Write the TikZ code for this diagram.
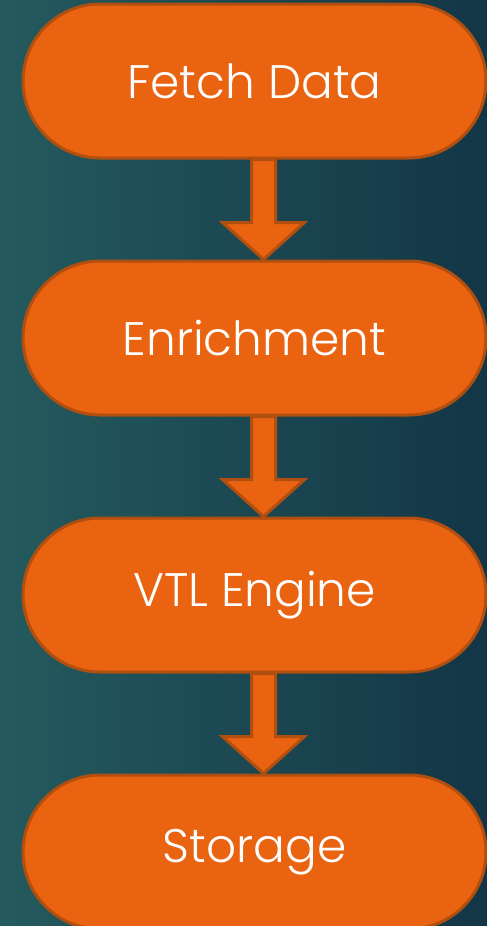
\documentclass[tikz,border=0pt]{standalone}
\usepackage{fontspec}
\setmainfont{Poppins}[UprightFont=* Light]
\usetikzlibrary{positioning,calc}

\definecolor{bgleft}{HTML}{245A5E}
\definecolor{bgright}{HTML}{133646}
\definecolor{stagefill}{HTML}{E96311}
\definecolor{stageedge}{HTML}{B04F10}

% block arrow from the bottom of #1 to the top of #2
\newcommand{\flowlink}[2]{%
  \coordinate (s) at ([xshift=9pt]#1.south);
  \coordinate (t) at ([xshift=9pt]#2.north);
  \draw[flowarrow] ([xshift=-12pt]s) -- ([xshift=-12pt,yshift=37pt]t)
    -- ([xshift=-41pt,yshift=37pt]t) -- (t)
    -- ([xshift=41pt,yshift=37pt]t) -- ([xshift=12pt,yshift=37pt]t)
    -- ([xshift=12pt]s) -- cycle;
}

\begin{document}
\begin{tikzpicture}[x=1pt,y=-1pt,node distance=257pt,
  semithick]
  \tikzstyle{stage}=[rectangle,rounded corners=77pt,minimum width=463pt,
    minimum height=154pt,fill=stagefill,draw=stageedge,line width=3pt,
    text=white,font=\fontsize{47}{56}\selectfont]
  \tikzstyle{flowarrow}=[fill=stagefill,draw=stageedge,line width=3pt]

  \shade[left color=bgleft,right color=bgright] (0,0) rectangle (487,926);
  \clip (0,0) rectangle (487,926);

  \node[stage] (fetch) at (254.5,81) {Fetch Data};
  \node[stage] (enrich)  [below of=fetch]  {Enrichment};
  \node[stage] (vtl)     [below of=enrich] {VTL Engine};
  \node[stage] (storage) [below of=vtl]    {Storage};

  \flowlink{fetch}{enrich}
  \flowlink{enrich}{vtl}
  \flowlink{vtl}{storage}
\end{tikzpicture}
\end{document}
